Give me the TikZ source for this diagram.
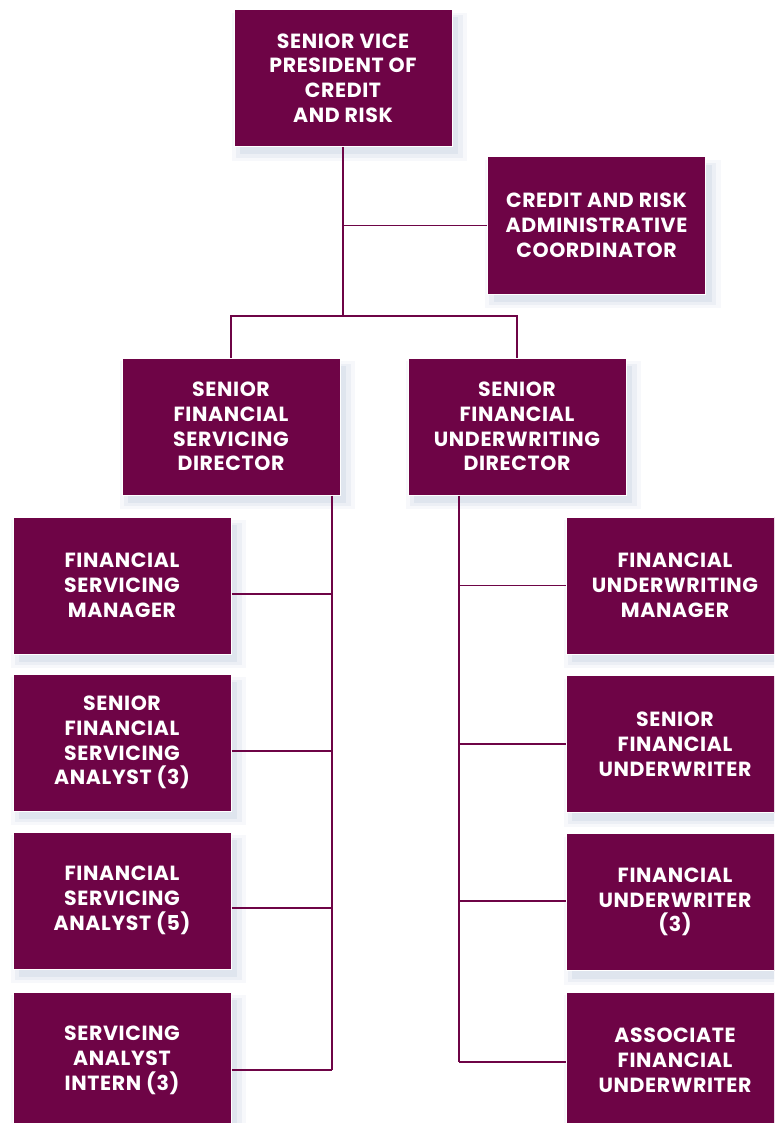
\documentclass[tikz,border=0pt]{standalone}
\usepackage{fontspec}
\setmainfont{Poppins}[LetterSpace=3]
\usetikzlibrary{positioning,shadows}
\definecolor{plum}{HTML}{6E0446}
\definecolor{haze}{HTML}{C9D3E2}

\begin{document}
\begin{tikzpicture}[x=1pt,y=-1pt,
  every node/.style={font=\fontsize{20.5}{24.8}\selectfont\bfseries},
  haze1/.style={general shadow={fill=haze, opacity=0.35, shadow xshift=6pt, shadow yshift=-8pt, shadow scale=1.0}},
  haze2/.style={general shadow={fill=haze, opacity=0.25, shadow xshift=6pt, shadow yshift=-8pt, shadow scale=1.04}},
  haze3/.style={general shadow={fill=haze, opacity=0.15, shadow xshift=6pt, shadow yshift=-8pt, shadow scale=1.08}},
  box/.style={haze3, haze2, haze1, fill=plum, draw=white, line width=1pt, text=white,
    minimum width=218pt, minimum height=137pt, align=center, inner sep=2pt},
  link/.style={draw=plum, line width=1.1pt}]
\clip (0,0) rectangle (774,1123);

% top of the chart
\node[box] (Vp) at (343,78) {SENIOR VICE\\PRESIDENT OF\\CREDIT\\AND RISK};
\node[box] (Adm) at (596.5,225.5) {CREDIT AND RISK\\ADMINISTRATIVE\\COORDINATOR};
\node[box] (Dir1) at (231,426.5) {SENIOR\\FINANCIAL\\SERVICING\\DIRECTOR};
\node[box] (Dir2) at (517,426.5) {SENIOR\\FINANCIAL\\UNDERWRITING\\DIRECTOR};

% servicing side
\node[box] (Svc1) at (122,585.5) {FINANCIAL\\SERVICING\\MANAGER};
\node[box] (Svc2) at (122,742.5) {SENIOR\\FINANCIAL\\SERVICING\\ANALYST (3)};
\node[box] (Svc3) at (122,900.5) {FINANCIAL\\SERVICING\\ANALYST (5)};
\node[box] (Svc4) at (122,1060.5) {SERVICING\\ANALYST\\INTERN (3)};

% underwriting side
\node[box] (Uw1) at (675,585.5) {FINANCIAL\\UNDERWRITING\\MANAGER};
\node[box] (Uw2) at (675,744) {SENIOR\\FINANCIAL\\UNDERWRITER};
\node[box] (Uw3) at (675,902) {FINANCIAL\\UNDERWRITER\\(3)};
\node[box] (Uw4) at (675,1060.5) {ASSOCIATE\\FINANCIAL\\UNDERWRITER};

\coordinate (J) at (343,316);
\coordinate (Ls) at (332,1070);
\coordinate (Rs) at (459,1062);

\draw[link] (Vp.south) -- (J);
\draw[link] (Adm.west) -- (Adm.west -| Vp.south);
\draw[link] (Dir1.north) |- (J) -| (Dir2.north);

\draw[link] (Ls |- Dir1.south) -- (Ls);
\draw[link] ([yshift=-8.5pt]Svc1.east) -- ([yshift=-8.5pt]Svc1.east -| Ls);
\draw[link] ([yshift=-8.5pt]Svc2.east) -- ([yshift=-8.5pt]Svc2.east -| Ls);
\draw[link] ([yshift=-7.5pt]Svc3.east) -- ([yshift=-7.5pt]Svc3.east -| Ls);
\draw[link] (Svc4.east |- Ls) -- (Ls);

\draw[link] (Rs |- Dir2.south) -- (Rs);
\draw[link] (Uw1.west) -- (Uw1.west -| Rs);
\draw[link] (Uw2.west) -- (Uw2.west -| Rs);
\draw[link] ([yshift=1pt]Uw3.west) -- ([yshift=1pt]Uw3.west -| Rs);
\draw[link] (Uw4.west |- Rs) -- (Rs);
\end{tikzpicture}
\end{document}
